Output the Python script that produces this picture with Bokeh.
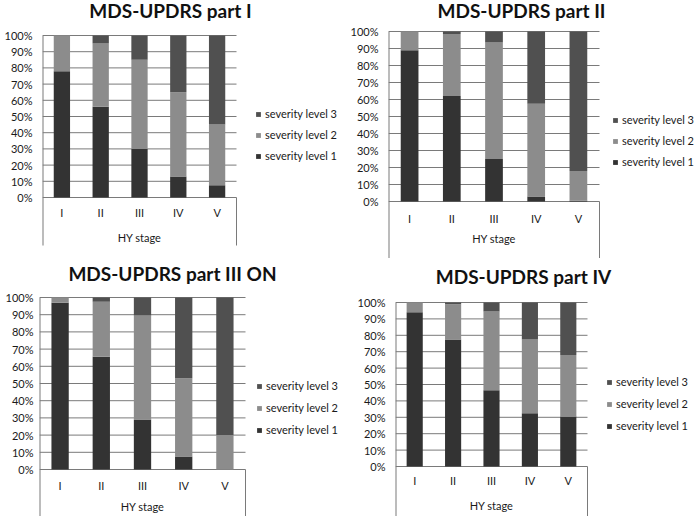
from bokeh.plotting import figure
from bokeh.models import (Range1d, FixedTicker, PrintfTickFormatter,
                          Legend, LegendItem, ColumnDataSource)
from bokeh.layouts import column, row
from bokeh.core.properties import value
from bokeh.embed import file_html
from bokeh.resources import INLINE

# ---------------- data ----------------
stages = ["I", "II", "III", "IV", "V"]
series = ["severity level 1", "severity level 2", "severity level 3"]
x_title = "HY stage"
y_ticks = [0, 10, 20, 30, 40, 50, 60, 70, 80, 90, 100]

titles = ["MDS-UPDRS part I", "MDS-UPDRS part II",
          "MDS-UPDRS part III ON", "MDS-UPDRS part IV"]

# percentages per HY stage
part1_level1 = [78, 56, 30, 13, 7.5]
part1_level2 = [22, 39, 55, 52, 37.5]
part1_level3 = [0, 5, 15, 35, 55]

part2_level1 = [89, 62, 25, 3, 0.5]
part2_level2 = [11, 36.5, 68.5, 54.5, 17.5]
part2_level3 = [0, 1.5, 6.5, 42.5, 82]

part3_level1 = [97, 65.5, 29, 7.5, 0]
part3_level2 = [3, 32, 60.5, 45.5, 20]
part3_level3 = [0, 2.5, 10.5, 47, 80]

part4_level1 = [94, 77.5, 46.5, 32.5, 30.5]
part4_level2 = [6, 21.5, 48, 45, 37.5]
part4_level3 = [0, 1, 5.5, 22.5, 32]

panel_data = [
    (part1_level1, part1_level2, part1_level3),
    (part2_level1, part2_level2, part2_level3),
    (part3_level1, part3_level2, part3_level3),
    (part4_level1, part4_level2, part4_level3),
]

# ---------------- styles / layout ----------------
colors = ["#333333", "#8c8c8c", "#505050"]
grid_col = "#7a7a7a"
FONT = "Lato"

# per-panel geometry in the panel's own pixels
geo = [
    dict(W=346, H=258, FL=42, FR=236, y100=35, y0=197, FB=245, so=10,
         lab=212, xt=237, tx=170, ty=10, lgx=255, lgb=162, sp=8),
    dict(W=350, H=258, FL=42, FR=253, y100=31, y0=201, FB=258, so=10,
         lab=218, xt=238, tx=175, ty=10, lgx=266, lgb=168, sp=8),
    dict(W=346, H=258, FL=39, FR=245, y100=39, y0=211, FB=258, so=6,
         lab=227, xt=248, tx=172, ty=15, lgx=256, lgb=178, sp=9),
    dict(W=350, H=258, FL=49, FR=241, y100=44, y0=208, FB=258, so=10,
         lab=222, xt=247, tx=177, ty=18, lgx=260, lgb=174, sp=9),
]


def make_panel(title, levels, g):
    ppu = (g["y0"] - g["y100"]) / 100.0           # px per percent
    ppx = (g["FR"] - g["FL"]) / len(stages)       # px per category
    n = len(stages)
    p = figure(width=g["W"], height=g["H"],
               x_range=Range1d(0, (g["W"] - g["FL"]) / ppx),
               y_range=Range1d(-(g["H"] - g["y0"]) / ppu, g["y0"] / ppu),
               x_axis_location=None,
               output_backend="svg", toolbar_location=None,
               min_border_left=g["FL"], min_border_right=0,
               min_border_top=0, min_border_bottom=0)
    p.outline_line_color = None
    p.background_fill_color = "white"
    p.border_fill_color = "white"
    p.xgrid.grid_line_color = None
    p.ygrid.grid_line_color = None

    ax = p.yaxis[0]
    ax.ticker = FixedTicker(ticks=y_ticks)
    ax.formatter = PrintfTickFormatter(format="%d%%")
    ax.major_label_text_font = FONT
    ax.major_label_text_font_size = "11px"
    ax.major_label_text_color = "#1a1a1a"
    ax.major_label_standoff = g["so"]
    ax.major_tick_in = 0
    ax.major_tick_out = 0
    ax.minor_tick_line_color = None
    ax.axis_line_color = None

    # horizontal gridlines across the category area
    p.segment(x0=[0] * len(y_ticks), x1=[n] * len(y_ticks), y0=y_ticks, y1=y_ticks,
              line_color=grid_col, line_width=1)

    # stacked bars
    xpos = [i + 0.5 for i in range(n)]
    src = ColumnDataSource(dict(x=xpos, stage=stages,
                                l1=levels[0], l2=levels[1], l3=levels[2]))
    rs = p.vbar_stack(["l1", "l2", "l3"], x="x", width=0.42, source=src,
                      color=colors, line_color=None)

    # category box: left line (full height of the plot) and right line (below 0%)
    box_bottom = -(g["FB"] - g["y0"]) / ppu
    p.segment(x0=[0, n], x1=[0, n], y0=[y_ticks[-1], 0], y1=[box_bottom, box_bottom],
              line_color=grid_col, line_width=[2, 1])

    # category labels and axis title
    lab_y = -(g["lab"] - g["y0"]) / ppu
    xt_y = -(g["xt"] - g["y0"]) / ppu
    p.text(x="x", y=lab_y, text="stage", source=src,
           text_font=value(FONT), text_font_size="11px", text_color="#1a1a1a",
           text_align="center", text_baseline="middle")
    p.text(x=[n / 2], y=[xt_y], text=[x_title],
           text_font=value(FONT), text_font_size="11px", text_color="#1a1a1a",
           text_align="center", text_baseline="middle")

    # chart title
    p.text(x=[(g["tx"] - g["FL"]) / ppx], y=[(g["y0"] - g["ty"]) / ppu], text=[title],
           text_font=value(FONT), text_font_style=value("bold"),
           text_font_size="19px", text_color="#111111",
           text_align="center", text_baseline="middle")

    items = [LegendItem(label=series[i], renderers=[rs[i]]) for i in (2, 1, 0)]
    leg = Legend(items=items, location=(g["lgx"] - g["FL"], g["H"] - g["lgb"]),
                 orientation="vertical", padding=0, margin=0,
                 border_line_color=None, background_fill_alpha=0,
                 glyph_width=6, glyph_height=6, label_standoff=4,
                 label_height=13, spacing=g["sp"],
                 label_text_font=FONT, label_text_font_size="11px",
                 label_text_color="#1a1a1a")
    p.add_layout(leg)
    return p


panels = [make_panel(titles[i], panel_data[i], geo[i]) for i in range(4)]
layout = column(row(panels[0], panels[1]), row(panels[2], panels[3]))

open("out.html", "w").write(file_html(layout, INLINE))
